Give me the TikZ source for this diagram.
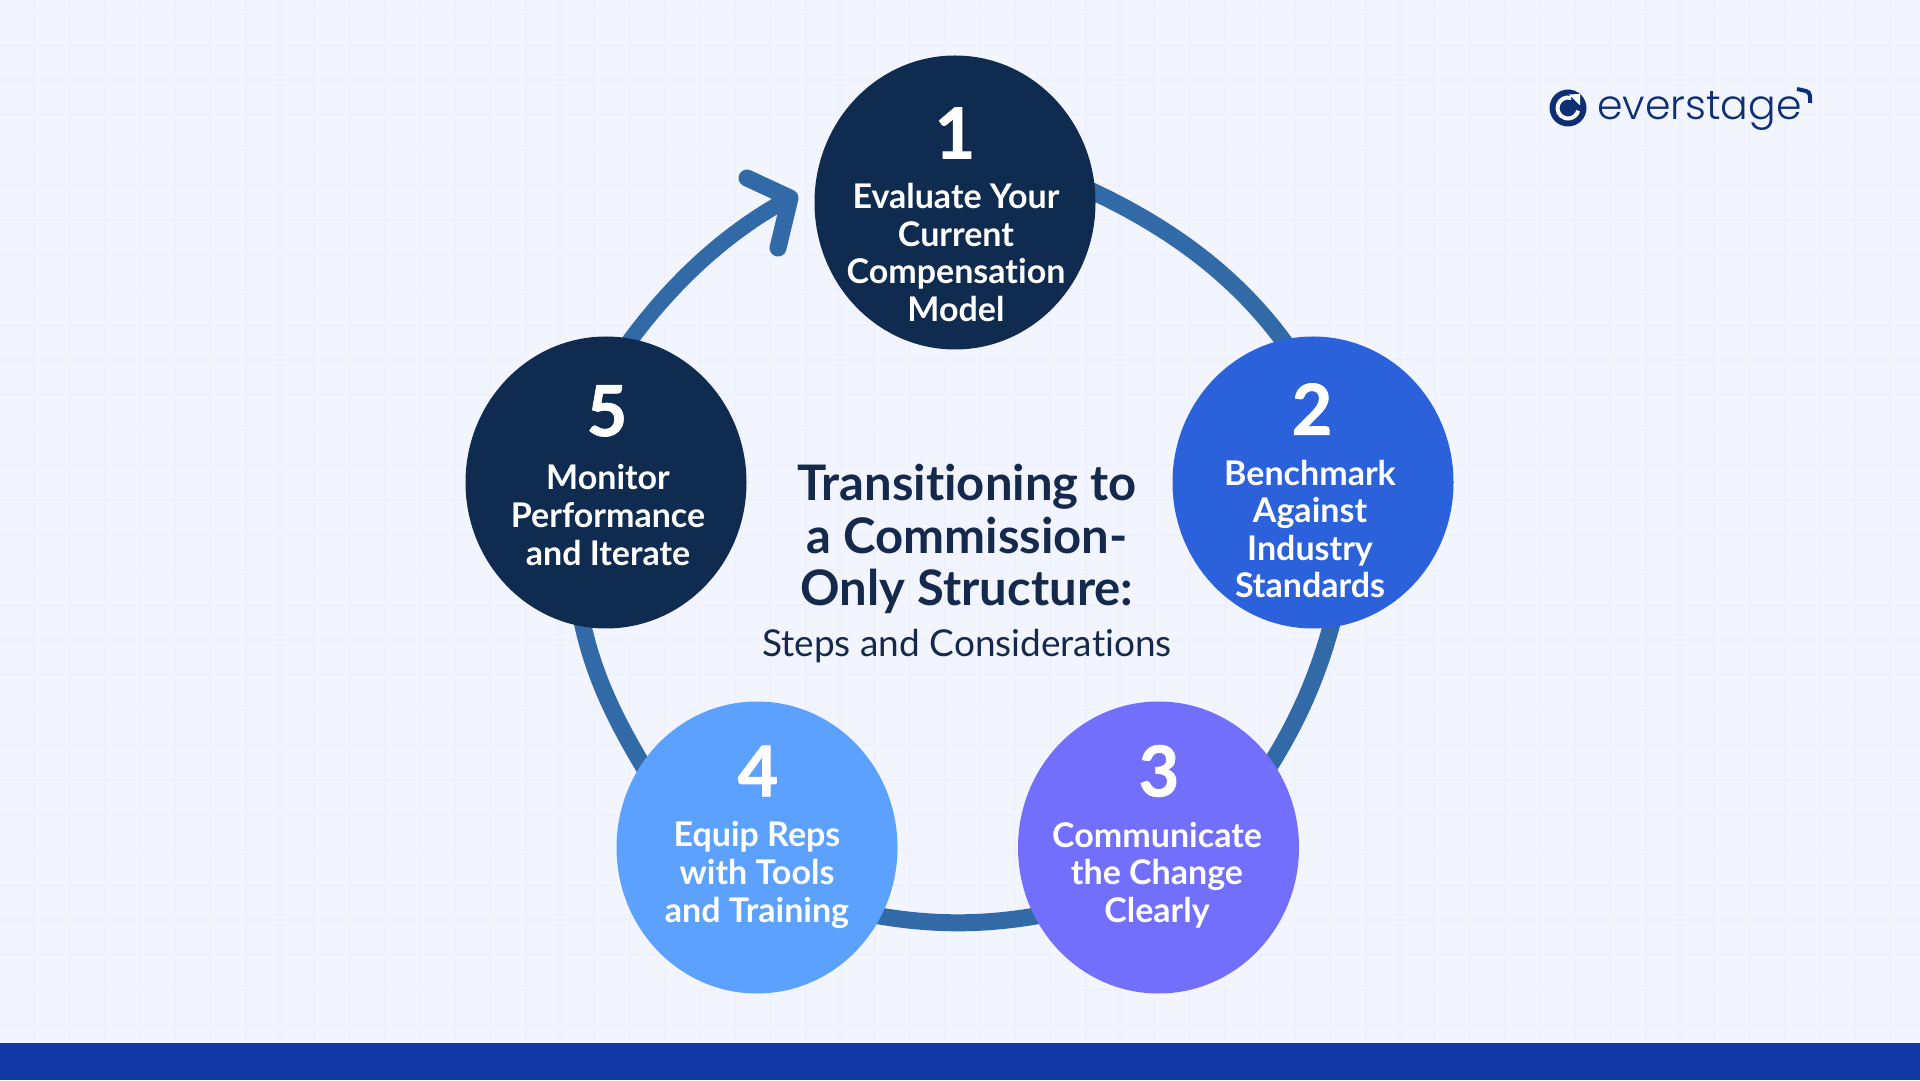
\documentclass[tikz,border=0pt]{standalone}
\usepackage{fontspec}
\setmainfont[RawFeature={-liga;-dlig}]{Lato}
\newfontfamily\numfont[BoldFeatures={FakeBold=1.2}]{Lato}
\newfontfamily\logofont{Poppins Light}
\usetikzlibrary{shapes.geometric,backgrounds}
\definecolor{bgc}{HTML}{F3F5FE}
\definecolor{gridc}{HTML}{EFF1FC}
\definecolor{barc}{HTML}{1238A8}
\definecolor{navyc}{HTML}{102B50}
\definecolor{bluec}{HTML}{2B62DB}
\definecolor{violetc}{HTML}{716FFC}
\definecolor{skyc}{HTML}{5CA1FE}
\definecolor{ringc}{HTML}{326AA8}
\definecolor{titlec}{HTML}{14294B}
\definecolor{logoc}{HTML}{0E2F73}
\tikzset{
  x=1pt,y=1pt,
  stepdisc/.style={shape=ellipse,minimum width=281pt,minimum height=292pt,inner sep=0pt,draw=none,fill=#1},
  numlabel/.style={text=white,font=\numfont\fontsize{70}{70}\selectfont\bfseries,anchor=center,inner sep=0pt},
  steplabel/.style={text=white,font=\fontsize{34}{37.6}\selectfont\bfseries,align=center,anchor=center,inner sep=0pt},
  ringline/.style={draw=ringc,line width=17pt,shorten <=-6pt,shorten >=-6pt,looseness=.87},
}
\begin{document}
\begin{tikzpicture}
\useasboundingbox (0,0) rectangle (1920,1080);
\node[stepdisc=navyc,minimum height=294pt] (c1) at (955,877.5) {};
\node[stepdisc=bluec] (c2) at (1313,597.5) {};
\node[stepdisc=violetc] (c3) at (1158.5,232.5) {};
\node[stepdisc=skyc] (c4) at (757,232.5) {};
\node[stepdisc=navyc] (c5) at (606,597.5) {};
\node[numlabel] (n1) at (955,947) {1};
\node[numlabel] (n2) at (1312,671) {2};
\node[numlabel] (n3) at (1159,309) {3};
\node[numlabel] (n4) at (758,309) {4};
\node[numlabel] (n5) at (607,669) {5};
\node[steplabel] (l1) at (956,827.5) {Evaluate Your\\Current\\Compensation\\Model};
\node[steplabel] (l2) at (1310,551) {Benchmark\\Against\\Industry\\Standards};
\node[steplabel] (l3) at (1157,205) {Communicate\\the Change\\Clearly};
\node[steplabel] (l4) at (757,205) {Equip Reps\\with Tools\\and Training};
\node[steplabel] (l5) at (608,565) {Monitor\\Performance\\and Iterate};
\node[text=titlec,font=\fontsize{49}{52.6}\selectfont\bfseries,align=center,inner sep=0pt] (title) at (967,541) {Transitioning to\\a Commission-\\Only Structure:};
\node[text=titlec,font=\fontsize{37}{40}\selectfont,inner sep=0pt] (sub) at (967,434) {Steps and Considerations};
\coordinate (armA) at (747,902);
\coordinate (tip) at (790,882);
\coordinate (armB) at (778,832);
\begin{scope}[on background layer]
  \fill[bgc] (0,0) rectangle (1920,1080);
  \foreach \gx in {35,70,...,1920} \draw[gridc,line width=1.5pt] (\gx,38) -- (\gx,1080);
  \foreach \gy in {55,90,...,1080} \draw[gridc,line width=1.5pt] (0,\gy) -- (1920,\gy);
  \fill[barc] (0,0) rectangle (1920,37);
  \draw[ringline] (c1.4.5) to[out=-25,in=126] (c2.102);
  \draw[ringline] (c2.-83) to[out=-105,in=58] (c3.37);
  \draw[ringline] (c3.-151) to[out=-170,in=-10] (c4.-29);
  \draw[ringline] (c4.144.5) to[out=121,in=-78] (c5.-99);
  \draw[ringc,line width=16pt,shorten <=-6pt,looseness=.85] (c5.80) to[out=54,in=208] (tip);
  \draw[ringc,line width=17pt,line cap=round,line join=round] (armA) -- (tip) -- (armB);
\end{scope}
% logo
\node[circle,fill=logoc,minimum size=37pt,inner sep=0pt] (logo) at (1568,972) {};
\draw[white,line width=4pt] (logo.center) ++(72:10.5) arc[start angle=72,end angle=345,radius=10.5];
\fill[white] (1569,985.5) -- (1580,986) -- (1580,974.5) -- cycle;
\node[text=logoc,font=\logofont\fontsize{41}{41}\selectfont,anchor=base west,inner sep=0pt] (wordmark) at (1597,960) {everstage};
\coordinate (markA) at (1797,991);
\coordinate (markB) at (1810,977);
\draw[logoc,line width=4pt] (markA) -- (1806,989) to[out=-10,in=90] (markB);
\end{tikzpicture}
\end{document}
